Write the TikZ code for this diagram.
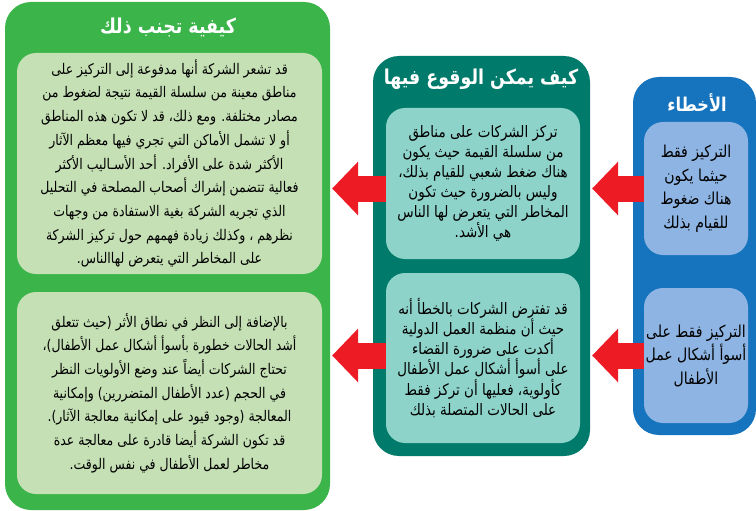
\documentclass[tikz,border=0pt]{standalone}
\usepackage{fontspec}
\usepackage{tikz}
\usetikzlibrary{arrows.meta}
\TeXXeTstate=1
\newfontfamily\arabicfont[Script=Arabic, FakeStretch=0.85]{DejaVu Sans}
\definecolor{avoidgreen}{RGB}{59,180,74}
\definecolor{avoidlight}{RGB}{197,224,180}
\definecolor{fallteal}{RGB}{0,122,106}
\definecolor{falllight}{RGB}{141,211,202}
\definecolor{errblue}{RGB}{22,115,189}
\definecolor{errlight}{RGB}{141,180,226}
\definecolor{arrowred}{RGB}{237,28,36}
\newcommand{\arline}[1]{\beginR #1\endR}

\begin{document}
\begin{tikzpicture}[x=1pt, y=-1pt,
  panel/.style={rounded corners=26pt, inner sep=0pt},
  card/.style={rounded corners=19pt, inner sep=0pt, align=center, text=black},
  heading/.style={text=white, inner sep=0pt},
  blockarrow/.style={arrowred, line width=26pt,
    -{Triangle[width=54pt, length=26pt, line width=0pt]}}]
  \useasboundingbox (0,0) rectangle (756,511);
  % Green column
  \node[panel, fill=avoidgreen, minimum width=325pt, minimum height=508pt]
    (greenbox) at (167.5,256) {};
  \node[heading, font=\arabicfont\bfseries\fontsize{20.5}{24}\selectfont]
    (greentitle) at (168,27) {\arline{كيفية تجنب ذلك}};
  \node[card, fill=avoidlight, minimum width=305pt, minimum height=221pt,
    font=\arabicfont\fontsize{14.7}{23.7}\selectfont] (greenA) at (169.5,163.5)
    {\arline{قد تشعر الشركة أنها مدفوعة إلى التركيز على}\\
     \arline{مناطق معينة من سلسلة القيمة نتيجة لضغوط من}\\
     \arline{مصادر مختلفة. ومع ذلك، قد لا تكون هذه المناطق}\\
     \arline{أو لا تشمل الأماكن التي تجري فيها معظم الآثار}\\
     \arline{الأكثر شدة على الأفراد. أحد الأسـاليب الأكثر}\\
     \arline{فعالية تتضمن إشراك أصحاب المصلحة في التحليل}\\
     \arline{الذي تجريه الشركة بغية الاستفادة من وجهات}\\
     \arline{نظرهم ، وكذلك زيادة فهمهم حول تركيز الشركة}\\
     \arline{على المخاطر التي يتعرض لهاالناس.}};
  \node[card, fill=avoidlight, minimum width=305pt, minimum height=202pt,
    font=\arabicfont\fontsize{14.7}{23.7}\selectfont] (greenB) at (169.5,393)
    {\arline{بالإضافة إلى النظر في نطاق الأثر (حيث تتعلق}\\
     \arline{أشد الحالات خطورة بأسوأ أشكال عمل الأطفال)،}\\
     \arline{تحتاج الشركات أيضاً عند وضع الأولويات  النظر}\\
     \arline{في الحجم (عدد الأطفال المتضررين) وإمكانية}\\
     \arline{المعالجة (وجود قيود على إمكانية معالجة الآثار).}\\
     \arline{قد تكون الشركة أيضا قادرة على معالجة عدة}\\
     \arline{مخاطر لعمل الأطفال في نفس الوقت.}};
  % Teal column
  \node[panel, fill=fallteal, minimum width=217pt, minimum height=400pt]
    (tealbox) at (481.5,256) {};
  \node[heading, font=\arabicfont\bfseries\fontsize{20.5}{24}\selectfont]
    (tealtitle) at (481,79) {\arline{كيف يمكن الوقوع فيها}};
  \node[card, fill=falllight, minimum width=194pt, minimum height=151pt,
    font=\arabicfont\fontsize{15.8}{20}\selectfont] (tealA) at (483,183.5)
    {\arline{تركز الشركات على مناطق}\\
     \arline{من سلسلة القيمة حيث يكون}\\
     \arline{هناك ضغط شعبي للقيام بذلك،}\\
     \arline{وليس بالضرورة حيث تكون}\\
     \arline{المخاطر التي يتعرض لها الناس}\\
     \arline{هي الأشد.}};
  \node[card, fill=falllight, minimum width=194pt, minimum height=170pt,
    font=\arabicfont\fontsize{15.8}{20}\selectfont] (tealB) at (483,358)
    {\arline{قد تفترض الشركات بالخطأ أنه}\\
     \arline{حيث أن منظمة العمل الدولية}\\
     \arline{أكدت على ضرورة القضاء}\\
     \arline{على أسوأ أشكال عمل الأطفال}\\
     \arline{كأولوية، فعليها أن تركز فقط}\\
     \arline{على الحالات المتصلة بذلك}};
  % Blue column
  \node[panel, fill=errblue, minimum width=123pt, minimum height=358pt]
    (bluebox) at (694.5,256) {};
  \node[heading, font=\arabicfont\bfseries\fontsize{19}{22}\selectfont]
    (bluetitle) at (697,103) {\arline{الأخطاء}};
  \node[card, fill=errlight, minimum width=104pt, minimum height=133pt,
    font=\arabicfont\fontsize{16.5}{23.5}\selectfont] (blueA) at (696,188.5)
    {\arline{التركيز فقط}\\
     \arline{حيثما يكون}\\
     \arline{هناك ضغوط}\\
     \arline{للقيام بذلك}};
  \node[card, fill=errlight, minimum width=104pt, minimum height=135pt,
    font=\arabicfont\fontsize{16.5}{23.5}\selectfont] (blueB) at (696,355.5)
    {\arline{التركيز فقط على}\\
     \arline{أسوأ أشكال عمل}\\
     \arline{الأطفال}};
  % Red arrows
  \draw[blockarrow] (blueA.west) -- ([xshift=2pt]blueA.west -| tealbox.east);
  \draw[blockarrow] (blueA.west -| tealA.west) -- ([xshift=2pt]blueA.west -| greenbox.east);
  \draw[blockarrow] (blueB.west) -- ([xshift=2pt]blueB.west -| tealbox.east);
  \draw[blockarrow] (blueB.west -| tealB.west) -- ([xshift=2pt]blueB.west -| greenbox.east);
\end{tikzpicture}
\end{document}
